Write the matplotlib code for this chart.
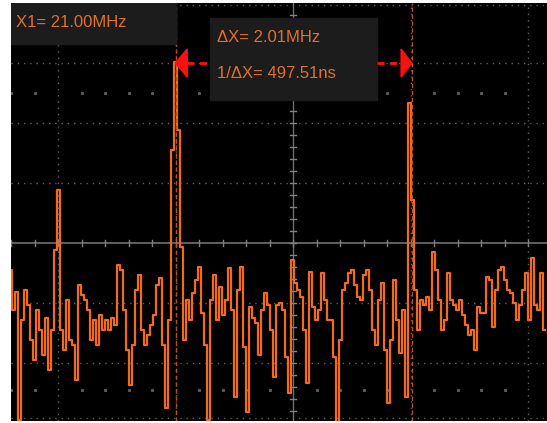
import numpy as np
import matplotlib
matplotlib.use("Agg")
import matplotlib.pyplot as plt
from matplotlib.patches import Rectangle, Polygon

# ---- data -------------------------------------------------------------
f_start_mhz = 19.6          # first sweep bin (MHz)
f_step_mhz = 0.02553        # bin spacing (MHz)
# trace level in screen divisions (0 = centre graticule line)
level_div = [
    -0.45, -1.12, -0.82, -2.95, -1.28, -0.78, -1.03, -1.62, -1.95, -1.12,
    -1.45, -1.87, -1.25, -2.12, -1.45, -0.12, 0.88, -1.45, -1.78, -0.95,
    -1.62, -1.70, -2.28, -0.70, -0.87, -0.95, -1.12, -1.62, -1.28, -1.70,
    -1.20, -1.45, -1.28, -1.45, -1.25, -1.37, -0.37, -0.45, -1.12, -1.78,
    -2.37, -1.70, -0.78, -0.53, -1.45, -1.70, -1.53, -1.37, -1.20, -0.70,
    -0.58, -1.70, -2.75, -1.28, 1.55, 3.02, 1.88, -0.07, -1.62, -0.95,
    -1.28, -0.83, -0.62, -0.40, -1.17, -1.70, -2.95, -0.95, -0.53, -1.28,
    -0.73, -1.20, -0.95, -0.42, -1.12, -2.57, -0.78, -0.40, -1.73, -2.82,
    -1.07, -1.25, -1.33, -1.87, -1.12, -0.83, -1.03, -1.45, -2.23, -1.03,
    -1.00, -1.12, -1.90, -2.50, -0.28, -0.67, -0.78, -0.90, -1.45, -2.33,
    -0.48, -1.07, -1.28, -1.12, -0.50, -0.95, -1.28, -1.28, -1.90, -2.98,
    -1.62, -0.78, -0.67, -0.50, -0.45, -0.70, -0.90, -0.95, -0.53, -0.45,
    -0.78, -1.45, -1.70, -0.95, -0.67, -1.78, -2.67, -1.62, -0.62, -1.28,
    -1.83, -1.12, -2.57, 2.33, 0.72, -0.78, -1.45, -0.95, -1.03, -0.90,
    -1.12, -0.15, -0.45, -0.95, -1.45, -1.28, -0.50, -0.95, -1.03, -1.12,
    -0.95, -1.20, -1.37, -1.53, -1.45, -1.78, -1.07, -1.17, -1.17, -0.57,
    -0.62, -1.40, -0.78, -0.45, -0.40, -0.62, -0.78, -0.83, -1.00, -1.28,
    -1.03, -0.78, -0.50, -1.28, -0.25, -1.03, -1.12, -0.50, -1.45,
]
freq_mhz = f_start_mhz + f_step_mhz * np.arange(len(level_div))

cursor_x1 = 21.00
cursor_dx = 2.01
label_x1 = "X1= 21.00MHz"
label_dx = "ΔX= 2.01MHz"
label_inv = "1/ΔX= 497.51ns"

# ---- style ------------------------------------------------------------
TRACE = "#f26a1e"
TEXT = "#e0702c"
GRID = "#5c5c5c"
BOX = "#1c1c1c"
FONT = ["Liberation Sans", "DejaVu Sans"]

fig = plt.figure(figsize=(5.47, 4.23), dpi=100, facecolor="white")
ax = fig.add_axes([11 / 547, 2 / 423, 536 / 547, 418 / 423])
ax.set_facecolor("black")
ax.set_xlim(19.6, 24.1617)
ax.set_ylim(-2.967, 4.0)
for s in ax.spines.values():
    s.set_visible(False)
ax.set_xticks([])
ax.set_yticks([])

# graticule
for f in [20, 21, 23, 24]:
    ax.axvline(f, color=GRID, ls=(0, (1, 3.5)), lw=1.0, zorder=1)
for lv in [3.97, 3, 2, 1, -1, -2, -2.92]:
    ax.axhline(lv, color=GRID, ls=(0, (1, 3.5)), lw=1.0, zorder=1)
ax.axhline(0, color="#707070", lw=1.2, zorder=1)
ax.axvline(22, color="#707070", lw=1.0, zorder=1)
minor_f = np.round(np.arange(19.6, 24.2, 0.2), 2)
for f in minor_f:
    ax.plot([f, f], [-0.05, 0.05], color="#808080", lw=1.0, zorder=1)
    if abs(f - round(f)) > 1e-6:
        ax.plot([f], [2.5], marker="s", ms=1.2, color=GRID, zorder=1)
        ax.plot([f], [-2.45], marker="s", ms=1.2, color=GRID, zorder=1)
for lv in np.arange(-2.8, 4.0, 0.2):
    ax.plot([21.975, 22.025], [lv, lv], color="#808080", lw=1.0, zorder=1)

# trace
ax.plot(freq_mhz, level_div, color=TRACE, lw=1.6, drawstyle="steps-mid", zorder=3)

# cursors
x2 = cursor_x1 + cursor_dx
for cx in [cursor_x1, x2]:
    ax.axvline(cx, color="#b4541c", ls=(0, (3, 2)), lw=1.0, zorder=4)

# info boxes
ax.add_patch(Rectangle((19.6, 3.317), cursor_x1 - 19.6, 0.7, color=BOX, zorder=5))
ax.add_patch(Rectangle((21.294, 2.383), 22.715 - 21.294, 1.367, color=BOX, zorder=5))
ax.text(19.643, 3.683, label_x1, color=TEXT, fontsize=12, family=FONT,
        va="center", ha="left", zorder=6)
ax.text(21.353, 3.417, label_dx, color=TEXT, fontsize=12, family=FONT,
        va="center", ha="left", zorder=6)
ax.text(21.353, 2.817, label_inv, color=TEXT, fontsize=12, family=FONT,
        va="center", ha="left", zorder=6)

# delta arrows
ya = 3.0
ax.add_patch(Polygon([[cursor_x1, ya], [cursor_x1 + 0.1, ya + 0.235],
                      [cursor_x1 + 0.1, ya - 0.235]], closed=True, color="#ff1010", zorder=6))
ax.add_patch(Polygon([[x2, ya], [x2 - 0.09, ya + 0.235],
                      [x2 - 0.09, ya - 0.235]], closed=True, color="#ff1010", zorder=6))
ax.plot([cursor_x1 + 0.1, 21.294], [ya, ya], color="#ff1010", lw=2, ls=(0, (2.5, 2)), zorder=6)
ax.plot([22.715, x2 - 0.09], [ya, ya], color="#ff1010", lw=2, ls=(0, (2.5, 2)), zorder=6)

fig.savefig("out.png", dpi=100, facecolor="white")
